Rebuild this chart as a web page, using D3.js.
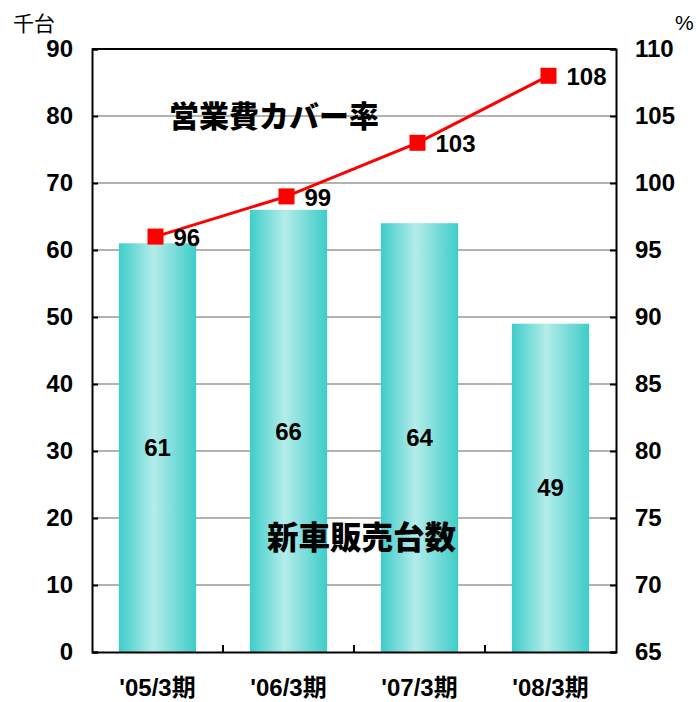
<!DOCTYPE html>
<meta charset="utf-8">
<script src="https://d3js.org/d3.v7.min.js"></script>
<style>
  body { margin: 0; background: #fff; }
  text { font-family: "Liberation Sans", Arial, "Noto Sans CJK JP", sans-serif; }
</style>
<div id="chart"></div>
<script>
// data
var periods = ["'05/3期", "'06/3期", "'07/3期", "'08/3期"];
var sales = [61, 66, 64, 49];          // 新車販売台数 (千台)
var coverage = [96, 99, 103, 108];     // 営業費カバー率 (%)
var leftTicks = [0, 10, 20, 30, 40, 50, 60, 70, 80, 90];
var rightTicks = [65, 70, 75, 80, 85, 90, 95, 100, 105, 110];

var W = 696, H = 702;
var m = {left: 92, right: 80, top: 49, bottom: 50};
var pw = W - m.left - m.right, ph = H - m.top - m.bottom;
var FONT = '"Liberation Sans", Arial, "Noto Sans CJK JP", sans-serif';

var svg = d3.select('#chart').append('svg')
    .attr('width', W).attr('height', H);

// bar gradient, dark at edges, light near the middle
var grad = svg.append('defs').append('linearGradient')
    .attr('id', 'barGrad').attr('x1', '0%').attr('x2', '100%');
grad.append('stop').attr('offset', '0%').attr('stop-color', '#3ecdc9');
grad.append('stop').attr('offset', '45%').attr('stop-color', '#b4ecea');
grad.append('stop').attr('offset', '100%').attr('stop-color', '#3ecdc9');

var g = svg.append('g').attr('transform', 'translate(' + m.left + ',' + m.top + ')');

var x = d3.scaleBand().domain(periods).range([0, pw]);
var y = d3.scaleLinear().domain([0, 90]).range([ph, 0]);
var y2 = d3.scaleLinear().domain([65, 110]).range([ph, 0]);

// grid lines
g.append('g').selectAll('line')
  .data(leftTicks.slice(1, -1))
  .enter().append('line')
    .attr('x1', 0).attr('x2', pw)
    .attr('y1', d => y(d)).attr('y2', d => y(d))
    .attr('stroke', '#999').attr('stroke-width', 1.5);

// bars
var bw = x.bandwidth() * 0.59;
g.append('g').selectAll('rect')
  .data(sales)
  .enter().append('rect')
    .attr('x', (d, i) => x(periods[i]) + (x.bandwidth() - bw) / 2)
    .attr('y', d => y(d))
    .attr('width', bw)
    .attr('height', d => ph - y(d))
    .attr('fill', 'url(#barGrad)');

// bar labels
g.append('g').selectAll('text')
  .data(sales)
  .enter().append('text')
    .attr('x', (d, i) => x(periods[i]) + x.bandwidth() / 2)
    .attr('y', d => y(d / 2))
    .attr('dy', '0.36em')
    .attr('text-anchor', 'middle')
    .attr('font-size', 24).attr('font-weight', 'bold')
    .text(d => d);

// axes
var axL = g.append('g').call(d3.axisLeft(y).tickValues(leftTicks).tickSize(-6).tickPadding(19));
var axR = g.append('g').attr('transform', 'translate(' + pw + ',0)')
    .call(d3.axisRight(y2).tickValues(rightTicks).tickSize(-6).tickPadding(19));
var axB = g.append('g').attr('transform', 'translate(0,' + ph + ')')
    .call(d3.axisBottom(x).tickSize(0).tickPadding(27));
[axL, axR, axB].forEach(a => {
  a.attr('font-size', null).attr('font-family', null);
  a.select('.domain').attr('stroke', '#000').attr('stroke-width', 2);
  a.selectAll('line').attr('stroke', '#000').attr('stroke-width', 2);
  a.selectAll('text').attr('font-size', 24).attr('font-weight', 'bold')
    .attr('fill', '#000').style('font-family', FONT);
});
axB.selectAll('text').attr('font-size', 24);

// category boundary ticks on the bottom axis
g.append('g').selectAll('line')
  .data(periods.slice(1))
  .enter().append('line')
    .attr('x1', d => x(d)).attr('x2', d => x(d))
    .attr('y1', ph).attr('y2', ph - 7)
    .attr('stroke', '#000').attr('stroke-width', 2);

// top border
g.append('line').attr('x1', 0).attr('x2', pw).attr('y1', 0).attr('y2', 0)
  .attr('stroke', '#000').attr('stroke-width', 2);

// coverage line
var cx = (d, i) => x(periods[i]) + x.bandwidth() / 2 - 2;
g.append('path')
  .datum(coverage)
  .attr('fill', 'none').attr('stroke', '#ff0000').attr('stroke-width', 3)
  .attr('d', d3.line().x(cx).y(d => y2(d)));

g.append('g').selectAll('rect')
  .data(coverage)
  .enter().append('rect')
    .attr('x', (d, i) => cx(d, i) - 8)
    .attr('y', d => y2(d) - 8)
    .attr('width', 16).attr('height', 16)
    .attr('fill', '#ff0000');

g.append('g').selectAll('text')
  .data(coverage)
  .enter().append('text')
    .attr('x', (d, i) => cx(d, i) + 18)
    .attr('y', d => y2(d))
    .attr('dy', '0.38em')
    .attr('font-size', 24).attr('font-weight', 'bold')
    .text(d => d);

// series names and unit labels
svg.append('text').attr('x', 169).attr('y', 127)
  .attr('font-size', 30).attr('font-weight', 900)
  .style('font-family', '"Noto Sans CJK JP", sans-serif')
  .text('営業費カバー率');
svg.append('text').attr('x', 267).attr('y', 549)
  .attr('font-size', 31.5).attr('font-weight', 900)
  .style('font-family', '"Noto Sans CJK JP", sans-serif')
  .text('新車販売台数');
svg.append('text').attr('x', 13).attr('y', 31)
  .attr('font-size', 21)
  .style('font-family', '"Noto Sans CJK JP", sans-serif')
  .text('千台');
svg.append('text').attr('x', 675).attr('y', 30)
  .attr('font-size', 21)
  .text('%');
</script>
